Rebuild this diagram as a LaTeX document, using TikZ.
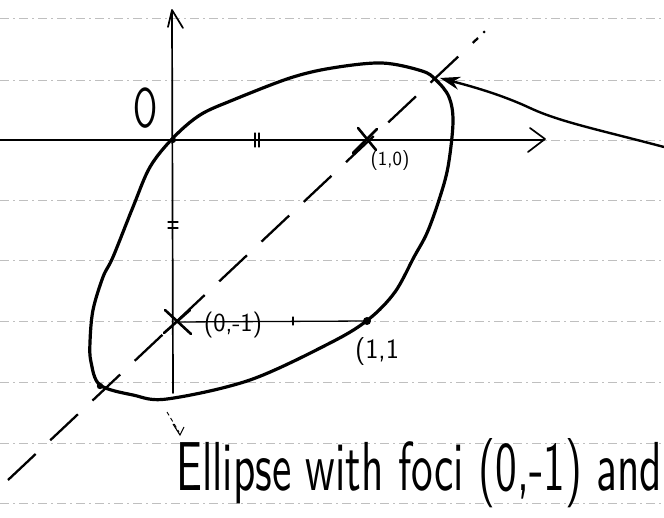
\documentclass[tikz,border=0pt]{standalone}
\usetikzlibrary{arrows.meta}
\begin{document}
\begin{tikzpicture}[x=1pt,y=-1pt,
  rule/.style={gray!50,line width=0.7pt,dash pattern=on 9pt off 4pt on 2pt off 4pt},
  axis/.style={black,line width=1.7pt,line cap=round,line join=round},
  curve/.style={black,line width=3.2pt,line cap=round},
  diag/.style={black,line width=2.3pt,dash pattern=on 38pt off 20pt},
  xmark/.style={black,line width=2.6pt,line cap=round},
  hand/.style={font=\sffamily,inner sep=0pt}]
\useasboundingbox (0,0) rectangle (664,518);
\fill[white] (0,0) rectangle (664,518);
% ruled paper
\foreach \y in {18,80,140,200,260,321,382,443,503} \draw[rule] (0,\y) -- (664,\y);
% key points
\coordinate (O) at (173,140);
\coordinate (F1) at (367,140);
\coordinate (F2) at (177,322);
\coordinate (P11) at (367,321);
\coordinate (DL) at (8,480);
\coordinate (DU) at (484,32);
% axes
\draw[axis] (0,140) -- (544,140);
\draw[axis] (530,128) -- (545,139) -- (528,152);
\draw[axis] (173,393) -- (172,11);
\draw[axis] (168,27) -- (172,10) -- (183,28);
% ticks
\draw[axis,line width=1.2pt] (255,133) -- (255,147) (259,133) -- (259,147);
\draw[axis,line width=1.2pt] (168,222) -- (178,222) (168,228) -- (178,228);
% dashed diagonal
\draw[diag] (DL) -- (478,38);
\fill (DU) circle (1.5pt);
% segment from focus (0,-1) to (1,1)
\draw[axis,line width=1.3pt] (F2) -- (P11);
\draw[axis,line width=1.2pt] (293,317) -- (293,325);
% ellipse
\draw[curve] plot[smooth cycle,tension=0.55] coordinates {
 (173,138) (200,115) (233,100) (290,78) (332,68) (382,63) (422,71) (436,80)
 (449,97) (453,122) (448,167) (439,200) (427,233) (414,257) (395,292) (369,319)
 (332,342) (250,380) (167,399) (133,395) (100,385) (91,362) (90,342) (93,310)
 (103,277) (113,257) (133,207) (150,167)};
\fill (O) circle (3pt);
\fill (P11) circle (4pt);
\fill (100,386) circle (3.2pt);
% foci crosses
\draw[xmark] (165,310) -- (191,334) (164,333) -- (190,310);
\draw[xmark] (358,128) -- (376,150) (353,153) -- (377,129);
% arrow from the right
\draw[black,line width=2.4pt,-{Stealth[length=20pt,width=13pt]}]
  (664,147) .. controls (600,130) and (560,122) .. (530,108)
  .. controls (500,94) and (470,86) .. (440,78);
% small arrow under the ellipse
\draw[black,line width=0.9pt,dash pattern=on 4pt off 3pt] (167,412) -- (179,432);
\draw[black,line width=1.1pt] (173,424) -- (180,435) -- (184,427);
% labels
\node[hand,font=\sffamily\fontsize{56}{56}\selectfont,xscale=0.62] (lblO) at (146,108) {O};
\node[hand,font=\sffamily\fontsize{20}{20}\selectfont] (lblF1) at (390,161) {(1,0)};
\node[hand,font=\sffamily\fontsize{26}{26}\selectfont] (lblF2) at (233,325) {(0,-1)};
\node[hand,font=\sffamily\fontsize{28}{28}\selectfont] (lblP) at (377,352) {(1,1};
\node[hand,anchor=base west] (title) at (176,490)
  {\resizebox{486pt}{52pt}{\sffamily Ellipse with foci (0,-1) and}};
\end{tikzpicture}
\end{document}
